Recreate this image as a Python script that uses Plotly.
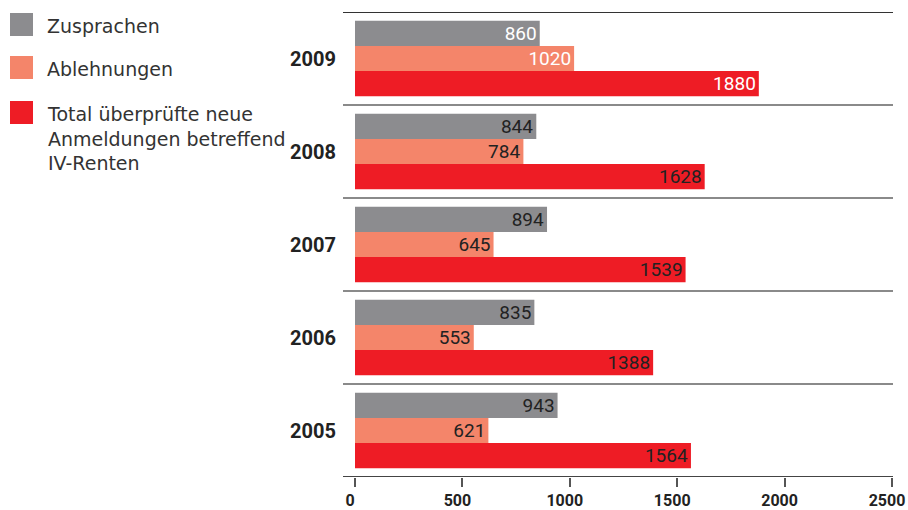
import plotly.graph_objects as go

years = ["2009", "2008", "2007", "2006", "2005"]
zusprachen = [860, 844, 894, 835, 943]
ablehnungen = [1020, 784, 645, 553, 621]
total = [1880, 1628, 1539, 1388, 1564]
series_names = ["Zusprachen", "Ablehnungen", "Total überprüfte neue<br>Anmeldungen betreffend<br>IV-Renten"]
series_colors = ["#8c8c8f", "#f4856a", "#ee1c25"]
x_ticks = [0, 500, 1000, 1500, 2000, 2500]

FONT = "Roboto"
LEG_FONT = "DejaVu Sans"
label_colors = ["#ffffff" if y == "2009" else "#222222" for y in years]

PL, PR, PT, PB = 355, 892, 12, 477  # plot area in window pixels
W = PR - PL
H = PB - PT

fig = go.Figure()
for vals, name, col in zip([zusprachen, ablehnungen, total], series_names, series_colors):
    fig.add_trace(go.Bar(
        y=years, x=vals, orientation="h", name=name,
        marker=dict(color=col, line=dict(width=0)),
        text=[str(v) for v in vals], textposition="inside", insidetextanchor="end",
        textfont=dict(family=FONT, size=19, color=label_colors),
        cliponaxis=False, showlegend=False, hoverinfo="x+name",
    ))

shapes = []
for i in range(len(years) + 1):
    ypos = i - 0.5
    col = "#333333" if i == 0 else ("#444444" if i == len(years) else "#8a8a8a")
    shapes.append(dict(type="line", xref="paper", yref="y", x0=(343 - PL) / W, x1=(893 - PL) / W,
                       y0=ypos, y1=ypos, line=dict(color=col, width=2)))

annotations = []
leg_y = [13, 56, 101]
for k, (name, col) in enumerate(zip(series_names, series_colors)):
    shapes.append(dict(type="rect", xref="paper", yref="paper",
                       x0=(10 - PL) / W, x1=(33 - PL) / W,
                       y0=1 - (leg_y[k] - PT) / H, y1=1 - (leg_y[k] + 23 - PT) / H,
                       fillcolor=col, line=dict(width=0)))
    annotations.append(dict(xref="paper", yref="paper", x=(45 - PL) / W,
                            y=1 - (leg_y[k] + 0 - PT) / H, xanchor="left", yanchor="top",
                            text=name, showarrow=False, align="left",
                            font=dict(family=LEG_FONT, size=19, color="#333333")))

fig.update_layout(
    width=908, height=510,
    margin=dict(l=PL, r=908 - PR, t=PT, b=510 - PB, autoexpand=False),
    paper_bgcolor="white", plot_bgcolor="white",
    barmode="group", bargap=0.19, bargroupgap=0,
    shapes=shapes, annotations=annotations,
    uniformtext=dict(minsize=19, mode="show"),
    xaxis=dict(range=[0, 2500], tickvals=x_ticks, showgrid=False, zeroline=False,
               showline=False, ticks="outside", ticklen=9, tickwidth=1.5,
               tickcolor="#555555", ticklabeloverflow="allow", ticklabelshift=-5,
               tickfont=dict(family=FONT, size=16, color="#222222", weight="bold")),
    yaxis=dict(categoryorder="array", categoryarray=years, range=[4.5, -0.5],
               showgrid=False, zeroline=False, showline=False, ticks="",
               ticklabelstandoff=18,
               tickfont=dict(family=FONT, size=20, color="#222222", weight="bold")),
    showlegend=False,
)

fig.write_html("out.html", config={"displayModeBar": False},
               post_script="document.body.style.margin='0';document.body.style.overflow='hidden';")
